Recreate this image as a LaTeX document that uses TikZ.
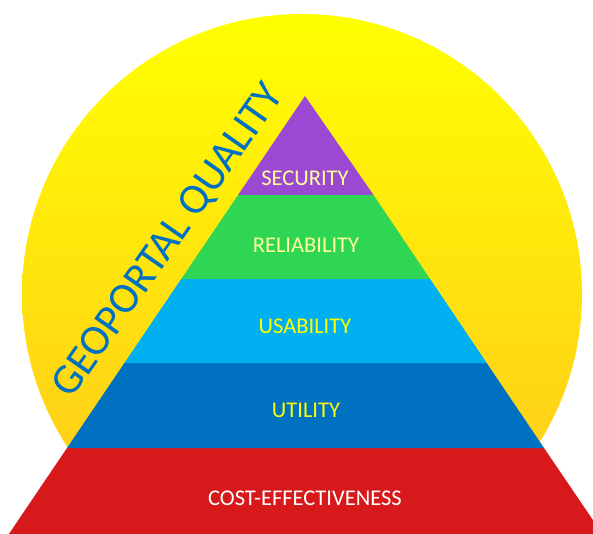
\documentclass[tikz,border=0pt]{standalone}
\usepackage{fontspec}
\setmainfont{Carlito}
\definecolor{sunTop}{RGB}{255,255,0}
\definecolor{sunBot}{RGB}{255,196,30}
\definecolor{secPurple}{RGB}{155,73,210}
\definecolor{relGreen}{RGB}{46,214,84}
\definecolor{usaCyan}{RGB}{0,176,240}
\definecolor{utiBlue}{RGB}{0,112,192}
\definecolor{costRed}{RGB}{215,25,28}
\definecolor{paleYellow}{RGB}{255,255,153}
\tikzset{
  layerlabel/.style={anchor=base, inner sep=0pt, font=\fontsize{22.5}{26}\selectfont},
  titlelabel/.style={inner sep=0pt, font=\fontsize{43}{50}\selectfont, text=utiBlue}
}
\begin{document}
\begin{tikzpicture}[x=1pt,y=-1pt]
\useasboundingbox (0,0) rectangle (593,534);
\begin{scope}
\clip (0,0) rectangle (593,534);
% sun
\shade[top color=sunTop, bottom color=sunBot] (302,294) circle[radius=280];
% pyramid layers
\fill[costRed] (67,448) -- (544,448) -- (602.4,534) -- (8.9,534) -- cycle;
\fill[utiBlue] (67,448) -- (544,448) -- (486.7,363) -- (124.4,363) -- cycle;
\fill[usaCyan] (124.4,363) -- (486.7,363) -- (430.1,279) -- (181.2,279) -- cycle;
\fill[relGreen] (181.2,279) -- (430.1,279) -- (373.5,195) -- (238.1,195) -- cycle;
\fill[secPurple] (238.1,195) -- (373.5,195) -- (305,96) -- cycle;
\end{scope}
% labels
\node[layerlabel, text=paleYellow] (sec) at (305,186) {SECURITY};
\node[layerlabel, text=paleYellow] (rel) at (306,252) {RELIABILITY};
\node[layerlabel, text=sunTop] (usa) at (305,333) {USABILITY};
\node[layerlabel, text=sunTop] (uti) at (306,417) {UTILITY};
\node[layerlabel, text=white] (cost) at (305,505) {COST-EFFECTIVENESS};
\node[titlelabel, rotate=55] (title) at (169,241) {GEOPORTAL QUALITY};
\end{tikzpicture}
\end{document}
